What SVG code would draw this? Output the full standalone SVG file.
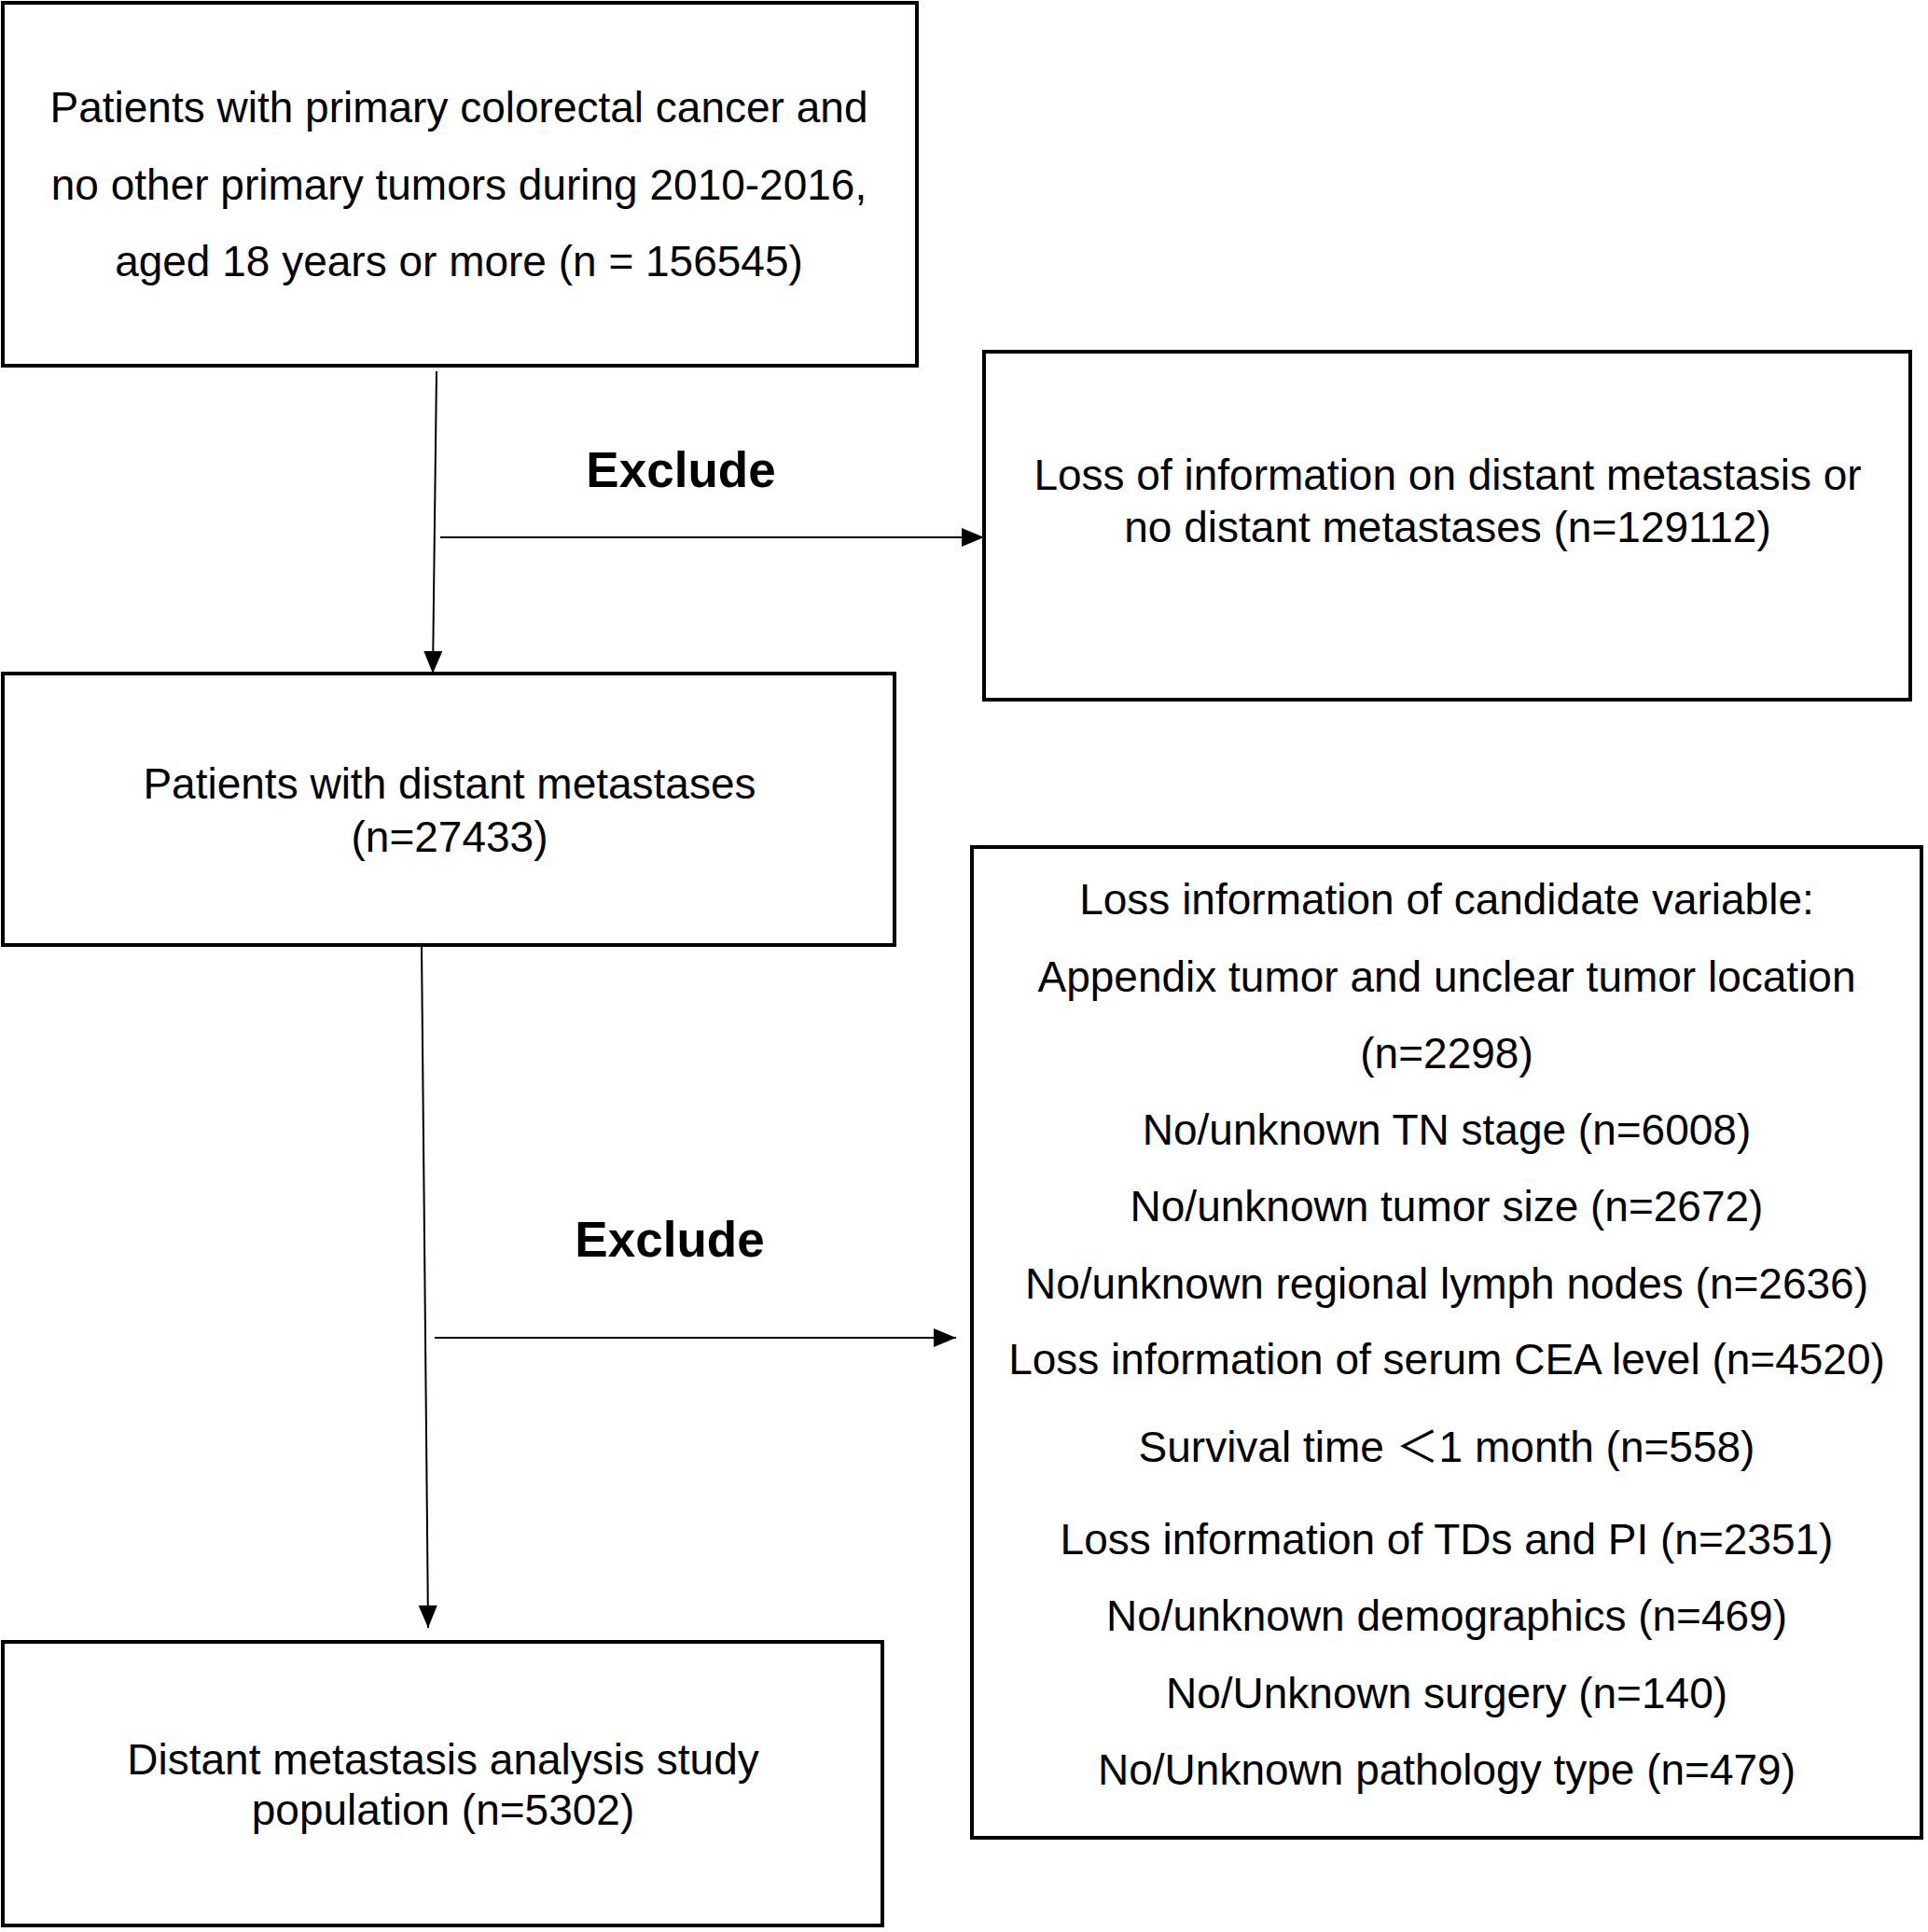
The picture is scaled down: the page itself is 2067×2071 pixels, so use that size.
<svg xmlns="http://www.w3.org/2000/svg" width="2067" height="2071" viewBox="0 0 2067 2071">
<defs>
<style>
.box{fill:#fff;stroke:#000;stroke-width:4}
.t{font-family:"Liberation Sans",Arial,"Noto Sans CJK SC",sans-serif;font-size:46px;fill:#000;text-anchor:middle}
.b{font-family:"Liberation Sans",Arial,sans-serif;font-size:53px;font-weight:bold;fill:#000;text-anchor:middle}
.c{fill:none;stroke:#000;stroke-width:2}
</style>
<marker id="ah" markerUnits="userSpaceOnUse" markerWidth="26" markerHeight="20" refX="24" refY="10" orient="auto">
<path d="M0,0 L24,10 L0,20 Z" fill="#000"/>
</marker>
</defs>
<rect width="2067" height="2071" fill="#fff"/>
<g id="n1">
<rect class="box" x="3" y="3" width="980" height="389"/>
<text class="t" x="492" y="131">Patients with primary colorectal cancer and</text>
<text class="t" x="492" y="214">no other primary tumors during 2010-2016,</text>
<text class="t" x="492" y="296">aged 18 years or more (n = 156545)</text>
</g>
<g id="n2">
<rect class="box" x="1055" y="377" width="993" height="373"/>
<text class="t" x="1552" y="525">Loss of information on distant metastasis or</text>
<text class="t" x="1552" y="581">no distant metastases (n=129112)</text>
</g>
<g id="n3">
<rect class="box" x="3" y="722" width="956" height="291"/>
<text class="t" x="482" y="856">Patients with distant metastases</text>
<text class="t" x="482" y="913">(n=27433)</text>
</g>
<g id="n4">
<rect class="box" x="1042" y="908" width="1018" height="1062"/>
<text class="t" x="1551" y="980">Loss information of candidate variable:</text>
<text class="t" x="1551" y="1063">Appendix tumor and unclear tumor location</text>
<text class="t" x="1551" y="1145">(n=2298)</text>
<text class="t" x="1551" y="1227">No/unknown TN stage (n=6008)</text>
<text class="t" x="1551" y="1309">No/unknown tumor size (n=2672)</text>
<text class="t" x="1551" y="1392">No/unknown regional lymph nodes (n=2636)</text>
<text class="t" x="1551" y="1473">Loss information of serum CEA level (n=4520)</text>
<text class="t" x="1551" y="1567">Survival time ＜1 month (n=558)</text>
<text class="t" x="1551" y="1666">Loss information of TDs and PI (n=2351)</text>
<text class="t" x="1551" y="1748">No/unknown demographics (n=469)</text>
<text class="t" x="1551" y="1831">No/Unknown surgery (n=140)</text>
<text class="t" x="1551" y="1913">No/Unknown pathology type (n=479)</text>
</g>
<g id="n5">
<rect class="box" x="3" y="1760" width="943" height="304"/>
<text class="t" x="475" y="1902">Distant metastasis analysis study</text>
<text class="t" x="475" y="1956">population (n=5302)</text>
</g>
<g id="labels">
<text class="b" x="730" y="522">Exclude</text>
<text class="b" x="718" y="1347">Exclude</text>
</g>
<g id="connectors">
<line class="c" x1="468" y1="398" x2="464" y2="722" marker-end="url(#ah)"/>
<line class="c" x1="472" y1="576" x2="1055" y2="576" marker-end="url(#ah)"/>
<line class="c" x1="452" y1="1013" x2="459" y2="1745" marker-end="url(#ah)"/>
<line class="c" x1="466" y1="1434" x2="1025" y2="1434" marker-end="url(#ah)"/>
</g>
</svg>
